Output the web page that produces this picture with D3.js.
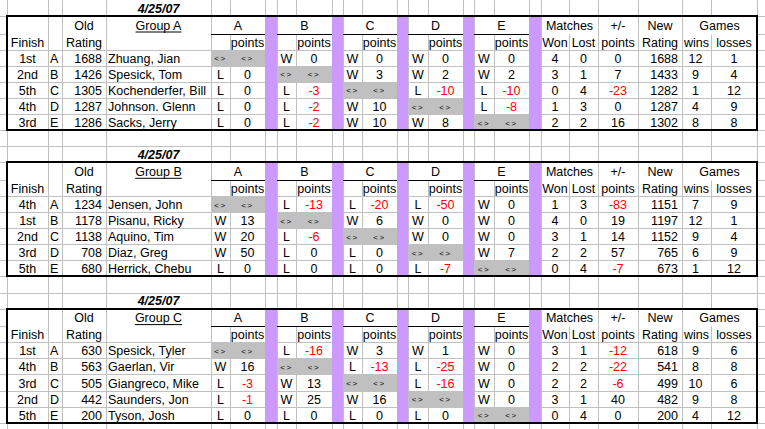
<!DOCTYPE html>
<html>
<head>
<meta charset="utf-8">
<script src="https://cdn.jsdelivr.net/npm/d3@7"></script>
<style>
html, body { margin: 0; padding: 0; background: #fff; }
svg { display: block; }
text { font-family: Arial, "Liberation Sans", sans-serif; font-size: 12.5px; fill: #000; }
</style>
</head>
<body>
<script>
// ---- data, one group per entry (Group A, B, C) ----
var groupNames = ["Group A", "Group B", "Group C"];
var dates = ["4/25/07", "4/25/07", "4/25/07"];
var seeds = ["A", "B", "C", "D", "E"];

var finishes = [
    ["1st", "2nd", "5th", "4th", "3rd"],
    ["4th", "1st", "2nd", "3rd", "5th"],
    ["1st", "4th", "3rd", "2nd", "5th"]
];
var oldRatings = [
    [1688, 1426, 1305, 1287, 1286],
    [1234, 1178, 1138, 708, 680],
    [630, 563, 505, 442, 200]
];
var players = [
    ["Zhuang, Jian", "Spesick, Tom", "Kochenderfer, Bill", "Johnson. Glenn", "Sacks, Jerry"],
    ["Jensen, John", "Pisanu, Ricky", "Aquino, Tim", "Diaz, Greg", "Herrick, Chebu"],
    ["Spesick, Tyler", "Gaerlan, Vir", "Giangreco, Mike", "Saunders, Jon", "Tyson, Josh"]
];
// result of each player (row) against opponent A..E (column); "" = self
var results = [
    [["", "W", "W", "W", "W"], ["L", "", "W", "W", "W"], ["L", "L", "", "L", "L"], ["L", "L", "W", "", "L"], ["L", "L", "W", "W", ""]],
    [["", "L", "L", "L", "W"], ["W", "", "W", "W", "W"], ["W", "L", "", "W", "W"], ["W", "L", "L", "", "W"], ["L", "L", "L", "L", ""]],
    [["", "L", "W", "W", "W"], ["W", "", "L", "L", "W"], ["L", "W", "", "L", "W"], ["L", "W", "W", "", "W"], ["L", "L", "L", "L", ""]]
];
var points = [
    [[null, 0, 0, 0, 0], [0, null, 3, 2, 2], [0, -3, null, -10, -10], [0, -2, 10, null, -8], [0, -2, 10, 8, null]],
    [[null, -13, -20, -50, 0], [13, null, 6, 0, 0], [20, -6, null, 0, 0], [50, 0, 0, null, 7], [0, 0, 0, -7, null]],
    [[null, -16, 3, 1, 0], [16, null, -13, -25, 0], [-3, 13, null, -16, 0], [-1, 25, 16, null, 0], [0, 0, 0, 0, null]]
];
var matchesWon = [[4, 3, 0, 1, 2], [1, 4, 3, 2, 0], [3, 2, 2, 3, 0]];
var matchesLost = [[0, 1, 4, 3, 2], [3, 0, 1, 2, 4], [1, 2, 2, 1, 4]];
var plusMinus = [[0, 7, -23, 0, 16], [-83, 19, 14, 57, -7], [-12, -22, -6, 40, 0]];
var newRatings = [[1688, 1433, 1282, 1287, 1302], [1151, 1197, 1152, 765, 673], [618, 541, 499, 482, 200]];
var gameWins = [[12, 9, 1, 4, 8], [7, 12, 9, 6, 1], [9, 8, 10, 9, 4]];
var gameLosses = [[1, 4, 12, 9, 8], [9, 1, 4, 9, 12], [6, 8, 6, 8, 12]];

// ---- layout ----
var W = 765, H = 429;
var gridColor = "#c0c0c0", purple = "#cc99ff", shade = "#c0c0c0", red = "#ff0000";

var opp = ["a", "b", "c", "d", "e"];
var colKeys = ["pre", "finish", "seed", "old", "name"];
opp.forEach(function(o) { colKeys.push(o + "WL", o + "Pts", o + "Gap"); });
colKeys = colKeys.concat(["won", "lost", "pm", "newr", "wins", "losses", "post"]);
var colEdges = [0, 7, 48, 62, 106, 211, 230, 265, 277, 296, 332, 343, 362, 397, 408, 428, 463, 474,
                494, 529, 541, 569, 598, 638, 682, 711, 757, 765];

var xl = d3.scaleOrdinal().domain(colKeys).range(colEdges.slice(0, -1));
var xr = d3.scaleOrdinal().domain(colKeys).range(colEdges.slice(1));
function xc(k) { return (xl(k) + xr(k)) / 2; }

// rows per group: date, header1, header2, 5 players, blank
var rowHeights = [];
groupNames.forEach(function() {
    rowHeights.push(16.1, 17.5, 16.1, 16.1, 16.1, 16.1, 16.1, 16.1, 16.1);
});
var rowTops = [0].concat(Array.from(d3.cumsum(rowHeights))).map(function(v) { return v - 0.1; });
var yRow = d3.scaleOrdinal().domain(d3.range(rowTops.length)).range(rowTops);
function rowT(g, r) { return yRow(g * 9 + r); }
function rowB(g, r) { return yRow(g * 9 + r + 1); }
function px(v) { return Math.round(v) + 0.5; }

var svg = d3.select("body").append("svg")
    .attr("width", W)
    .attr("height", H);

svg.append("rect").attr("width", W).attr("height", H).attr("fill", "#fff");

// sheet gridlines
svg.append("g").selectAll("line")
    .data(colEdges.slice(1))
    .enter().append("line")
    .attr("x1", function(d) { return d + 0.5; })
    .attr("x2", function(d) { return d + 0.5; })
    .attr("y1", 0).attr("y2", H)
    .attr("stroke", gridColor);
svg.append("g").selectAll("line")
    .data(rowTops.filter(function(d) { return d > 0 && d < H; }))
    .enter().append("line")
    .attr("x1", 0).attr("x2", W)
    .attr("y1", function(d) { return px(d); })
    .attr("y2", function(d) { return px(d); })
    .attr("stroke", gridColor);

function txt(parent, x, y, s, anchor, color) {
    return parent.append("text")
        .attr("x", x).attr("y", y)
        .attr("text-anchor", anchor || "middle")
        .style("fill", color || "#000")
        .text(s);
}
function numColor(v) { return v < 0 ? red : "#000"; }

groupNames.forEach(function(gName, g) {
    var grp = svg.append("g");
    var T = rowT(g, 1), B = rowT(g, 8);
    var L = xl("finish"), R = xr("losses");

    grp.append("rect")
        .attr("x", L).attr("y", T).attr("width", R - L).attr("height", B - T)
        .attr("fill", "#fff");

    // inner vertical lines, merged header cells skip the first header row
    var merged = opp.map(function(o) { return xr(o + "WL"); }).concat([xr("won"), xr("wins")]);
    var inner = colEdges.filter(function(d) { return d > L && d < R; });
    grp.selectAll(".vl").data(inner).enter().append("line")
        .attr("x1", function(d) { return d + 0.5; })
        .attr("x2", function(d) { return d + 0.5; })
        .attr("y1", function(d) { return merged.indexOf(d) >= 0 ? px(rowT(g, 2)) : T; })
        .attr("y2", B)
        .attr("stroke", gridColor);
    grp.selectAll(".hl").data(d3.range(3, 8)).enter().append("line")
        .attr("x1", L).attr("x2", R)
        .attr("y1", function(r) { return px(rowT(g, r)); })
        .attr("y2", function(r) { return px(rowT(g, r)); })
        .attr("stroke", gridColor);

    // purple separator columns
    grp.selectAll(".gap").data(opp).enter().append("rect")
        .attr("x", function(o) { return xl(o + "Gap"); })
        .attr("y", T)
        .attr("width", function(o) { return xr(o + "Gap") - xl(o + "Gap"); })
        .attr("height", B - T)
        .attr("fill", purple);

    // grey self-match cells
    grp.selectAll(".self").data(d3.range(5)).enter().append("rect")
        .attr("x", function(i) { return xl(opp[i] + "WL") + 1; })
        .attr("y", function(i) { return Math.round(rowT(g, 3 + i)) + 1; })
        .attr("width", function(i) { return xr(opp[i] + "Pts") - xl(opp[i] + "WL") - 1; })
        .attr("height", function(i) { return Math.round(rowB(g, 3 + i)) - Math.round(rowT(g, 3 + i)) - 1; })
        .attr("fill", shade);

    // date
    txt(grp, xc("name"), rowB(g, 0) - 3.2, dates[g])
        .style("font-weight", "bold").style("font-style", "italic");

    // header row 1
    var h1 = rowB(g, 1) - 4;
    txt(grp, xc("old"), h1, "Old");
    var gt = txt(grp, xc("name"), h1, gName);
    var gw = gt.node().getComputedTextLength();
    grp.append("line")
        .attr("x1", xc("name") - gw / 2).attr("x2", xc("name") + gw / 2)
        .attr("y1", h1 + 2.5).attr("y2", h1 + 2.5)
        .attr("stroke", "#000").attr("stroke-width", 1);
    opp.forEach(function(o, i) {
        txt(grp, (xl(o + "WL") + xr(o + "Pts")) / 2, h1, seeds[i]);
        grp.append("line")
            .attr("x1", xl(o + "WL")).attr("x2", xr(o + "Pts"))
            .attr("y1", px(rowT(g, 2))).attr("y2", px(rowT(g, 2)))
            .attr("stroke", "#000");
    });
    txt(grp, (xl("won") + xr("lost")) / 2, h1, "Matches");
    txt(grp, xc("pm"), h1, "+/-");
    txt(grp, xc("newr"), h1, "New");
    txt(grp, (xl("wins") + xr("losses")) / 2, h1, "Games");

    // header row 2
    var h2 = rowB(g, 2) - 3;
    txt(grp, xc("finish"), h2, "Finish");
    txt(grp, xc("old"), h2, "Rating");
    opp.forEach(function(o) { txt(grp, xc(o + "Pts"), h2, "points"); });
    txt(grp, xc("won"), h2, "Won");
    txt(grp, xc("lost"), h2, "Lost");
    txt(grp, xc("pm"), h2, "points");
    txt(grp, xc("newr"), h2, "Rating");
    txt(grp, xc("wins"), h2, "wins");
    txt(grp, xc("losses"), h2, "losses");

    // player rows
    d3.range(5).forEach(function(p) {
        var yb = rowB(g, 3 + p) - 3;
        txt(grp, xc("finish"), yb, finishes[g][p]);
        txt(grp, xl("seed") + 2, yb, seeds[p], "start");
        txt(grp, xr("old") - 4, yb, oldRatings[g][p], "end");
        txt(grp, xl("name") + 2, yb, players[g][p], "start");
        opp.forEach(function(o, j) {
            if (j === p) {
                txt(grp, xc(o + "WL"), yb - 1.5, "<>").style("font-size", "8px").style("letter-spacing", "1.5px");
                txt(grp, xc(o + "Pts"), yb - 1.5, "<>").style("font-size", "8px").style("letter-spacing", "1.5px");
            } else {
                txt(grp, xc(o + "WL"), yb, results[g][p][j]);
                txt(grp, xc(o + "Pts"), yb, points[g][p][j], "middle", numColor(points[g][p][j]));
            }
        });
        txt(grp, xc("won"), yb, matchesWon[g][p]);
        txt(grp, xc("lost"), yb, matchesLost[g][p]);
        txt(grp, xc("pm"), yb, plusMinus[g][p], "middle", numColor(plusMinus[g][p]));
        txt(grp, xr("newr") - 4, yb, newRatings[g][p], "end");
        txt(grp, xc("wins") - 1, yb, gameWins[g][p]);
        txt(grp, xc("losses"), yb, gameLosses[g][p]);
    });

    // outer border
    grp.append("rect")
        .attr("x", L).attr("y", Math.round(T))
        .attr("width", R - L).attr("height", Math.round(B) - Math.round(T))
        .attr("fill", "none")
        .attr("stroke", "#000").attr("stroke-width", 2);
});
</script>
</body>
</html>
